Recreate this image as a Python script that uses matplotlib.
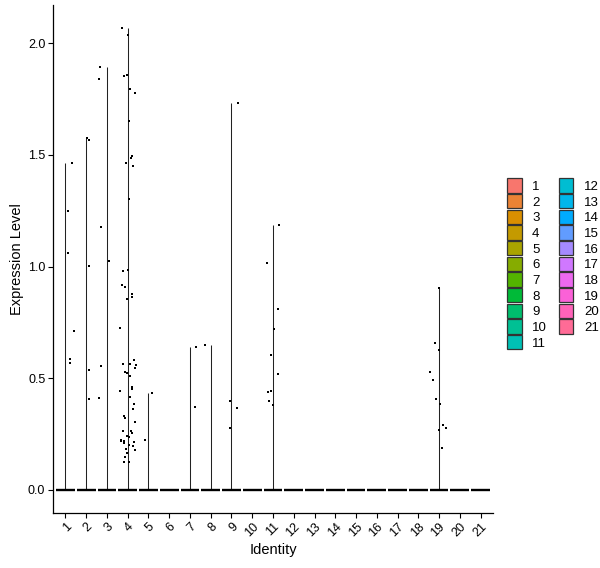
import numpy as np
import matplotlib
matplotlib.use("Agg")
import matplotlib.pyplot as plt
from matplotlib.patches import Patch

plt.rcParams['font.family'] = ['Liberation Sans', 'DejaVu Sans']

# cluster identities on the x axis
clusters = [str(i) for i in range(1, 22)]

# non-zero cells: cluster, expression value, jitter offset
pt_cluster = ([1] * 6 + [2] * 5 + [3] * 6 + [4] * 55 + [5] * 2 + [7] * 2 + [8] * 1
              + [9] * 4 + [11] * 10 + [19] * 11)
pt_value = [
    1.465, 1.25, 1.06, 0.71, 0.585, 0.567,
    1.578, 1.565, 1.002, 0.535, 0.407,
    1.895, 1.84, 1.176, 1.024, 0.554, 0.41,
    2.068, 2.037, 1.859, 1.855, 1.795, 1.777, 1.653, 1.497, 1.485, 1.462,
    1.452, 1.305, 0.981, 0.986, 0.919, 0.91, 0.879, 0.865, 0.857, 0.727,
    0.58, 0.563, 0.563, 0.558, 0.545, 0.527, 0.522, 0.509, 0.46, 0.454,
    0.443, 0.416, 0.384, 0.362, 0.331, 0.322, 0.304, 0.264, 0.263, 0.255,
    0.242, 0.237, 0.224, 0.217, 0.22, 0.211, 0.214, 0.202, 0.196, 0.18,
    0.184, 0.165, 0.147, 0.126, 0.126,
    0.433, 0.223,
    0.641, 0.37,
    0.65,
    1.733, 0.396, 0.365, 0.276,
    1.185, 1.016, 0.811, 0.722, 0.606, 0.521, 0.445, 0.437, 0.396, 0.379,
    0.904, 0.659, 0.628, 0.526, 0.494, 0.405, 0.384, 0.29, 0.276, 0.267, 0.187,
]
pt_jitter = [
    0.32, 0.13, 0.13, 0.42, 0.23, 0.23,
    0.04, 0.15, 0.14, 0.14, 0.14,
    -0.32, -0.37, -0.27, 0.10, -0.27, -0.38,
    -0.27, 0.02, -0.04, -0.17, 0.10, 0.36, 0.07, 0.21, 0.17, -0.07,
    0.26, 0.07, -0.23, 0.01, -0.27, -0.12, 0.21, 0.21, -0.03, -0.36,
    0.29, -0.23, 0.10, 0.41, 0.36, -0.12, -0.03, 0.10, 0.21, 0.20,
    -0.37, 0.10, 0.29, 0.25, -0.18, -0.14, 0.34, -0.23, 0.15, 0.20,
    -0.03, 0.06, -0.33, -0.33, -0.18, -0.18, 0.29, 0.06, 0.25, 0.34,
    -0.09, -0.04, -0.14, -0.18, 0.06,
    0.17, -0.16,
    0.27, 0.24,
    -0.29,
    0.30, -0.09, 0.25, -0.09,
    0.31, -0.31, 0.26, 0.07, -0.12, 0.26, -0.12, -0.22, -0.17, -0.02,
    0.0, -0.21, 0.0, -0.45, -0.30, -0.16, 0.03, 0.18, 0.32, 0.0, 0.13,
]


def hue_pal(n, c=100.0, l=65.0):
    # ggplot2 default discrete palette (polar Luv -> sRGB)
    hues = np.linspace(15, 375, n + 1)[:n]
    xn, yn, zn = 95.047, 100.0, 108.883
    un = 4 * xn / (xn + 15 * yn + 3 * zn)
    vn = 9 * yn / (xn + 15 * yn + 3 * zn)
    out = []
    for h in hues:
        u = c * np.cos(np.radians(h))
        v = c * np.sin(np.radians(h))
        y = yn * ((l + 16) / 116) ** 3
        up = u / (13 * l) + un
        vp = v / (13 * l) + vn
        x = 9.0 * y * up / (4 * vp)
        z = -x / 3 - 5 * y + 3 * y / vp
        xyz = np.array([x, y, z]) / 100
        m = np.array([[3.240479, -1.537150, -0.498535],
                      [-0.969256, 1.875992, 0.041556],
                      [0.055648, -0.204043, 1.057311]])
        rgb = m @ xyz
        rgb = np.where(rgb > 0.00304, 1.055 * np.power(np.clip(rgb, 1e-9, None), 1 / 2.4) - 0.055, 12.92 * rgb)
        out.append(tuple(np.clip(rgb, 0, 1)))
    return out


colors = hue_pal(len(clusters))

fig = plt.figure(figsize=(6, 5.68), dpi=100)
ax = fig.add_axes([0.0883, 0.0968, 0.7334, 0.8942])

pt_cluster = np.array(pt_cluster)
pt_value = np.array(pt_value)
pt_jitter = np.array(pt_jitter)

for i, name in enumerate(clusters):
    k = i + 1
    vals = pt_value[pt_cluster == k]
    top = vals.max() if len(vals) else 0.0
    if top > 0:
        ax.vlines(k, 0, top, color='#222222', lw=0.75, zorder=2)
    ax.hlines(0, k - 0.45, k + 0.45, color='black', lw=1.7, zorder=2)

ax.scatter(pt_cluster + pt_jitter, pt_value, s=3, c='black', marker='s',
           linewidths=0, zorder=3)

ax.set_xlim(0.4, 21.6)
ax.set_ylim(-0.1034, 2.171)
ax.set_xticks(range(1, 22))
ax.set_xticklabels(clusters, rotation=45, ha='right', va='top',
                   rotation_mode='anchor', fontsize=9)
ax.set_yticks([0.0, 0.5, 1.0, 1.5, 2.0])
ax.set_yticklabels(['0.0', '0.5', '1.0', '1.5', '2.0'], fontsize=9)
ax.tick_params(length=3.5, width=0.8, pad=2, colors='black')
for s in ['top', 'right']:
    ax.spines[s].set_visible(False)
for s in ['left', 'bottom']:
    ax.spines[s].set_linewidth(0.9)
ax.set_xlabel('Identity', fontsize=10.5, labelpad=3)
ax.set_ylabel('Expression Level', fontsize=10.5, labelpad=3)

handles = [Patch(facecolor=col, edgecolor='#333333', linewidth=0.9, label=name)
           for col, name in zip(colors, clusters)]
fig.legend(handles=handles, loc='upper left', bbox_to_anchor=(0.845, 0.686),
           ncol=2, frameon=False, fontsize=9.5, handlelength=1.1,
           handleheight=1.3, labelspacing=0.08, handletextpad=0.8,
           columnspacing=0.9, borderpad=0, borderaxespad=0)

fig.savefig('out.png', dpi=100)
